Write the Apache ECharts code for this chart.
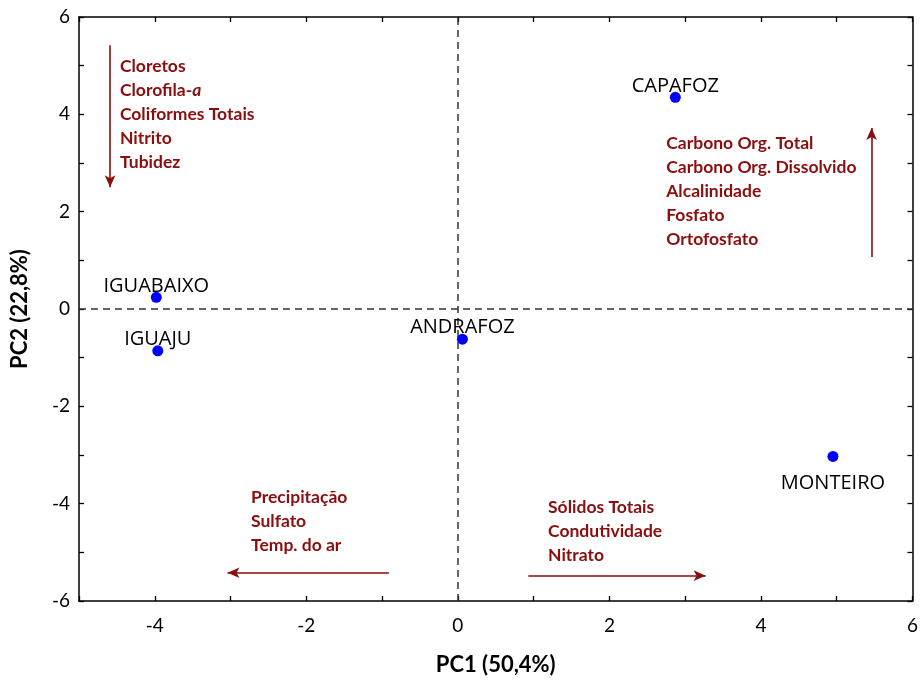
<!DOCTYPE html>
<html>
<head>
<meta charset="utf-8">
<script src="https://cdn.jsdelivr.net/npm/echarts@6/dist/echarts.min.js"></script>
<style>
  html, body { margin: 0; padding: 0; background: #fff; }
  #chart { width: 921px; height: 682px; }
</style>
</head>
<body>
<div id="chart"></div>
<script>
// PCA scores of the sampling sites
const sites = ['CAPAFOZ', 'IGUABAIXO', 'IGUAJU', 'ANDRAFOZ', 'MONTEIRO'];
const pc1 = [2.87, -3.98, -3.96, 0.06, 4.95];
const pc2 = [4.35, 0.24, -0.86, -0.62, -3.03];

// variable groups that load on each direction
const groupUp = ['Carbono Org. Total', 'Carbono Org. Dissolvido', 'Alcalinidade', 'Fosfato', 'Ortofosfato'];
const groupDown = ['Cloretos', 'Clorofila-a', 'Coliformes Totais', 'Nitrito', 'Tubidez'];
const groupLeft = ['Precipitação', 'Sulfato', 'Temp. do ar'];
const groupRight = ['Sólidos Totais', 'Condutividade', 'Nitrato'];

const RED = '#8b0d0d';
const TXT = '#000';

// label placement per site: above the dot except MONTEIRO
const labelPos = { MONTEIRO: 'bottom' };

const siteData = sites.map((s, i) => ({
  name: s,
  value: [pc1[i], pc2[i]],
  label: {
    position: labelPos[s] || 'top',
    distance: labelPos[s] ? 11 : -4
  }
}));

// text block anchors (top-left corner, in PC units) and arrows
const blocks = [
  { lines: groupDown, at: [-4.46, 5.24] },
  { lines: groupUp, at: [2.75, 3.66] },
  { lines: groupLeft, at: [-2.73, -3.63] },
  { lines: groupRight, at: [1.19, -3.82] }
];
const arrows = [
  [[-4.59, 5.42], [-4.59, 2.50]],
  [[5.46, 1.07], [5.46, 3.72]],
  [[-0.91, -5.42], [-3.04, -5.42]],
  [[0.93, -5.48], [3.27, -5.48]]
];

function fmtLine(t) {
  if (t === 'Clorofila-a') return '{b|Clorofila-}{i|a}';
  return '{b|' + t + '}';
}

const blockData = blocks.map(b => ({
  value: b.at,
  label: { formatter: b.lines.map(fmtLine).join('\n') }
}));

const axisCommon = {
  type: 'value',
  interval: 1,
  splitLine: { show: false },
  axisLine: { show: true, onZero: false, lineStyle: { color: '#000', width: 1.5 } },
  axisTick: { show: true, inside: true, length: 5, lineStyle: { color: '#000', width: 1.3 } }
};

const evenLabel = v => (Math.round(v) % 2 === 0 ? String(Math.round(v)) : '');

const chart = echarts.init(document.getElementById('chart'), null, { renderer: 'canvas' });
chart.setOption({
  animation: false,
  backgroundColor: '#fff',
  grid: { left: 79, right: 5, top: 17, bottom: 81, containLabel: false },
  xAxis: [
    Object.assign({}, axisCommon, {
      min: -5, max: 6, position: 'bottom',
      name: 'PC1 (50,4%)', nameLocation: 'middle', nameGap: 53,
      nameTextStyle: { fontFamily: 'Lato', fontWeight: 'bold', fontSize: 22, color: TXT },
      axisLabel: { formatter: evenLabel, fontFamily: 'Lato', fontSize: 19, color: TXT, margin: 15 }
    }),
    Object.assign({}, axisCommon, {
      min: -5, max: 6, position: 'top', axisLabel: { show: false }
    })
  ],
  yAxis: [
    Object.assign({}, axisCommon, {
      min: -6, max: 6, position: 'left',
      name: 'PC2 (22,8%)', nameLocation: 'middle', nameGap: 48, nameRotate: 90,
      nameTextStyle: { fontFamily: 'Lato', fontWeight: 'bold', fontSize: 22, color: TXT },
      axisLabel: { formatter: evenLabel, fontFamily: 'Lato', fontSize: 19, color: TXT, margin: 9 }
    }),
    Object.assign({}, axisCommon, {
      min: -6, max: 6, position: 'right', axisLabel: { show: false }
    })
  ],
  series: [
    {
      type: 'scatter',
      name: 'sites',
      data: siteData,
      symbol: 'circle',
      symbolSize: 11,
      itemStyle: { color: '#0000ff', opacity: 1 },
      label: {
        show: true,
        formatter: '{b}',
        fontFamily: 'Open Sans',
        fontSize: 20,
        color: TXT
      },
      markLine: {
        silent: true,
        symbol: 'none',
        label: { show: false },
        lineStyle: { color: '#333', type: [7, 5], width: 1.5 },
        data: [{ xAxis: 0 }, { yAxis: 0 }]
      },
      z: 5
    },
    {
      type: 'scatter',
      name: 'loadings',
      data: blockData,
      symbolSize: 0,
      silent: true,
      itemStyle: { opacity: 1 },
      label: {
        show: true,
        position: [0, 0],
        align: 'left',
        verticalAlign: 'top',
        lineHeight: 24,
        rich: {
          b: { fontFamily: 'Lato', fontWeight: 'bold', fontSize: 17.5, color: RED, lineHeight: 24 },
          i: { fontFamily: 'Lato', fontWeight: 'bold', fontStyle: 'italic', fontSize: 17.5, color: RED, lineHeight: 24 }
        }
      },
      markLine: {
        silent: true,
        symbol: ['none', 'arrow'],
        symbolSize: [8, 12],
        label: { show: false },
        lineStyle: { color: RED, type: 'solid', width: 1.6, opacity: 1 },
        data: arrows.map(a => [{ coord: a[0] }, { coord: a[1] }])
      }
    }
  ]
});
</script>
</body>
</html>
